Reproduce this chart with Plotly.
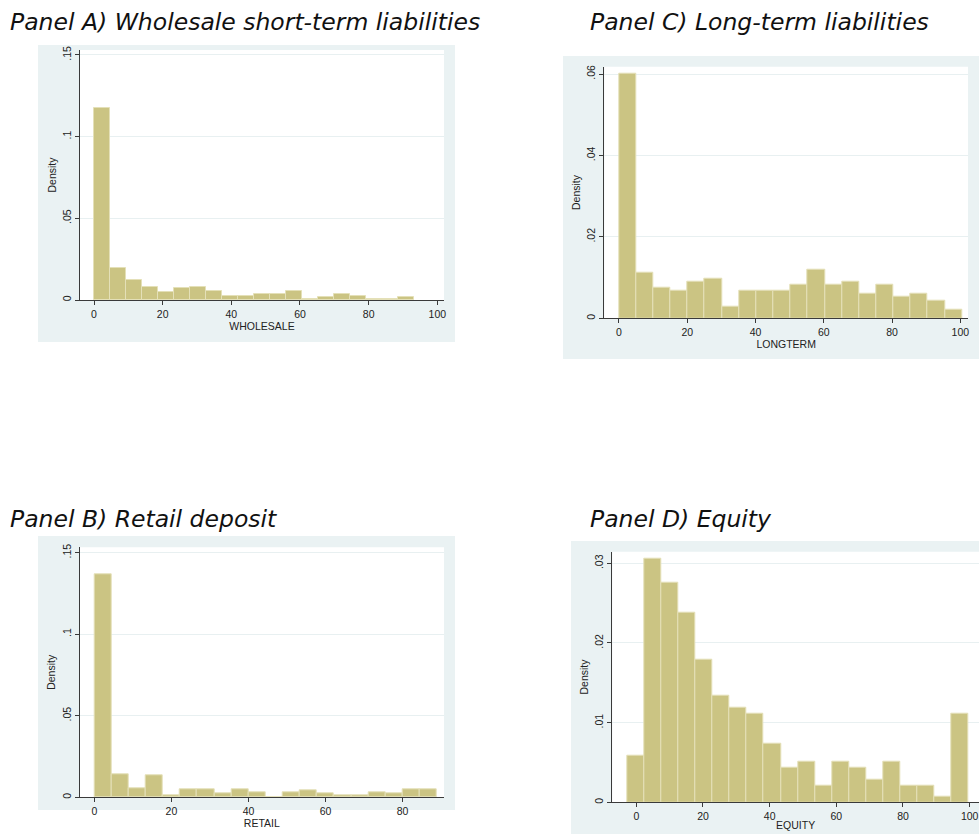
import plotly.graph_objects as go

# ---- data: histogram densities (20 bins each) ----
wholesale_start, wholesale_width = 0.0, 4.66
wholesale_density = [0.1173, 0.0194, 0.0121, 0.0080, 0.0047, 0.0072, 0.0080, 0.0055,
                     0.0025, 0.0025, 0.0039, 0.0039, 0.0055, 0.0008, 0.0016, 0.0039,
                     0.0025, 0.0008, 0.0008, 0.0016]

longterm_start, longterm_width = 0.0, 5.025
longterm_density = [0.0600, 0.0112, 0.0074, 0.0067, 0.0089, 0.0097, 0.0029, 0.0067,
                    0.0067, 0.0067, 0.0082, 0.0120, 0.0082, 0.0089, 0.0060, 0.0082,
                    0.0052, 0.0060, 0.0044, 0.0022]

retail_start, retail_width = 0.0, 4.445
retail_density = [0.1370, 0.0143, 0.0057, 0.0137, 0.0014, 0.0049, 0.0049, 0.0024,
                  0.0049, 0.0033, 0.0, 0.0033, 0.0041, 0.0024, 0.0014, 0.0014,
                  0.0033, 0.0024, 0.0049, 0.0049]

equity_start, equity_width = -2.6, 5.105
equity_density = [0.0059, 0.0306, 0.0276, 0.0238, 0.0179, 0.0134, 0.0119, 0.0111,
                  0.0074, 0.0044, 0.0051, 0.0021, 0.0051, 0.0044, 0.0029, 0.0051,
                  0.0021, 0.0021, 0.0007, 0.0111]

x_ticks = [0, 20, 40, 60, 80, 100]
y_ticks_a = [0, 0.05, 0.10, 0.15]
y_ticks_a_text = ["0", ".05", ".1", ".15"]
y_ticks_c = [0, 0.02, 0.04, 0.06]
y_ticks_c_text = ["0", ".02", ".04", ".06"]
y_ticks_d = [0, 0.01, 0.02, 0.03]
y_ticks_d_text = ["0", ".01", ".02", ".03"]

W, H = 979, 840
BAR_FILL = "#CBC483"
BAR_EDGE = "#E4E0B8"
PANEL_BG = "#EAF2F3"
GRID = "#E8F0F1"
AXIS = "#3a3a3a"
TICK_FONT = dict(family="Liberation Sans, Arial", size=10.5, color="#222")


def px_x(p):
    return p / W


def px_y(p):
    return 1 - p / H


def bins(start, width, n):
    return [start + width * (i + 0.5) for i in range(n)]


panels = [
    # axis suffix, start, width, density, x title, x range, y range, yticks, ytext, plot box (px)
    ("", wholesale_start, wholesale_width, wholesale_density, "WHOLESALE",
     [-4.08, 101.95], [0, 0.153], y_ticks_a, y_ticks_a_text, (80, 50, 444, 300)),
    ("2", longterm_start, longterm_width, longterm_density, "LONGTERM",
     [-4.29, 102.24], [0, 0.0618], y_ticks_c, y_ticks_c_text, (604.3, 66.7, 968, 318.3)),
    ("3", retail_start, retail_width, retail_density, "RETAIL",
     [-3.81, 90.74], [0, 0.1533], y_ticks_a, y_ticks_a_text, (79.7, 547.3, 444, 797.3)),
    ("4", equity_start, equity_width, equity_density, "EQUITY",
     [-7.2, 102.8], [0, 0.03146], y_ticks_d, y_ticks_d_text, (612.3, 551.7, 979, 802.3)),
]

fig = go.Figure()
layout = {}
for name, start, width, dens, xtitle, xr, yr, yt, ytt, box in panels:
    x0, y0, x1, y1 = box
    fig.add_trace(go.Bar(
        x=bins(start, width, len(dens)), y=dens, width=width,
        marker=dict(color=BAR_FILL, line=dict(color=BAR_EDGE, width=1)),
        xaxis="x" + name, yaxis="y" + name, showlegend=False,
    ))
    layout["xaxis" + name] = dict(
        domain=[px_x(x0), min(px_x(x1), 1.0)], range=xr, anchor="y" + name,
        tickvals=x_ticks, ticks="outside", ticklen=4, tickcolor=AXIS,
        showline=True, linecolor=AXIS, linewidth=1, showgrid=False, zeroline=False,
        tickfont=TICK_FONT, automargin=False,
        title=dict(text=xtitle, font=TICK_FONT, standoff=0),
    )
    layout["yaxis" + name] = dict(
        domain=[px_y(y1), px_y(y0)], range=yr, anchor="x" + name,
        tickvals=yt, ticktext=ytt, tickangle=-90, ticks="outside", ticklen=4,
        tickcolor=AXIS, showline=True, linecolor=AXIS, linewidth=1,
        showgrid=True, gridcolor=GRID, gridwidth=1, zeroline=False,
        tickfont=TICK_FONT, automargin=False,
        title=dict(text="Density", font=TICK_FONT, standoff=2),
    )

# light graph-region backgrounds behind each panel, white plot regions on top
regions = [(38, 45, 455, 342), (563, 56, 979, 359), (38, 536, 455, 810), (571, 541, 979, 834)]
shapes = [dict(type="rect", xref="paper", yref="paper", x0=px_x(a), x1=px_x(c),
               y0=px_y(d), y1=px_y(b), fillcolor=PANEL_BG, line=dict(width=0),
               layer="below") for a, b, c, d in regions]
for p in panels:
    x0, y0, x1, y1 = p[-1]
    shapes.append(dict(type="rect", xref="paper", yref="paper", x0=px_x(x0),
                       x1=min(px_x(x1), 1.0), y0=px_y(y1), y1=px_y(y0),
                       fillcolor="white", line=dict(width=0), layer="below"))

TITLE_FONT = dict(family="DejaVu Sans", size=23.5, color="#111", style="italic")
titles = [
    ("Panel A) Wholesale short-term liabilities", 8, 22),
    ("Panel C) Long-term liabilities", 588, 22),
    ("Panel B) Retail deposit", 8, 519),
    ("Panel D) Equity", 588, 519),
]
annotations = [dict(text=t, x=px_x(x), y=px_y(y), xref="paper", yref="paper",
                    xanchor="left", yanchor="middle", showarrow=False, font=TITLE_FONT)
               for t, x, y in titles]

fig.update_layout(
    width=W, height=H, margin=dict(l=0, r=0, t=0, b=0),
    paper_bgcolor="white", plot_bgcolor="white", bargap=0,
    shapes=shapes, annotations=annotations, **layout,
)

fig.write_html("out.html")
